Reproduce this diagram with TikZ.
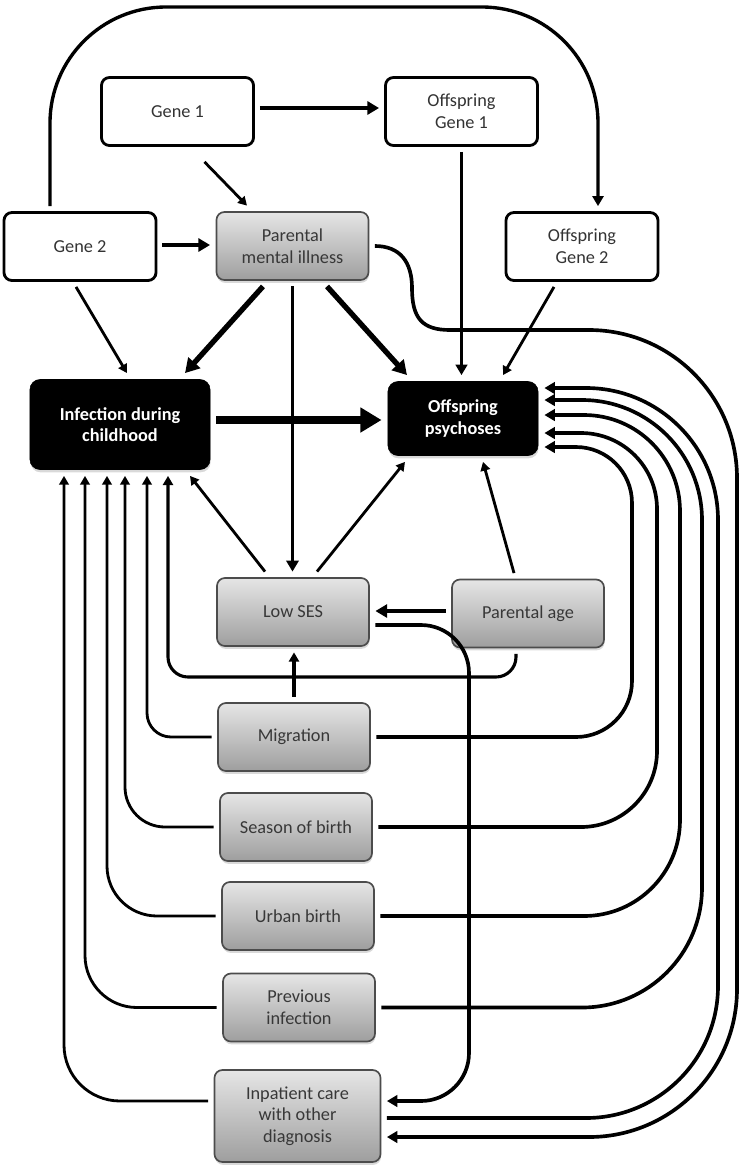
\documentclass[tikz,border=0pt]{standalone}
\usepackage{fontspec}
\setmainfont{Carlito}
\usetikzlibrary{arrows.meta,shadows,calc}
\tikzset{
  box/.style={
    shape = rectangle,
    rounded corners = 0.2cm,
    minimum width = 3.8cm,
    minimum height = 1.7cm,
    align = center,
    outer sep = 0.16cm,
    font = \fontsize{13}{15.4}\selectfont
  },
  gene/.style={
    box,
    draw = black,
    line width = 2pt,
    fill = white,
    text = black!80
  },
  factor/.style={
    box,
    draw = black!70,
    line width = 1.2pt,
    top color = black!10,
    bottom color = black!38,
    text = black!78,
    drop shadow = {shadow xshift=0.4pt, shadow yshift=-2pt, opacity=0.3}
  },
  outcome/.style={
    box,
    rounded corners = 0.25cm,
    draw = black,
    fill = black,
    text = white,
    font = \fontsize{13}{15.4}\selectfont\bfseries,
    drop shadow = {shadow xshift=0.4pt, shadow yshift=-2pt, opacity=0.3}
  },
}
\tikzset{
  conn/.style={
    line width = 2pt,
    -{Triangle[length=2pt 2.1, width=2pt 2.4]}
  },
}
\begin{document}
\begin{tikzpicture}[x=0.025cm, y=-0.025cm]
\useasboundingbox (0,0) rectangle (742,1172);
% genes
\node[gene] (g1) at (177.5,111.5) {Gene 1};
\node[gene] (og1) at (461.5,111.5) {Offspring\\Gene 1};
\node[gene] (g2) at (80,246.5) {Gene 2};
\node[gene] (og2) at (582,246.5) {Offspring\\Gene 2};
% outcomes
\node[outcome, minimum width=4.5cm, minimum height=2.25cm] (inf) at (120,424.5) {Infection during\\childhood};
\node[outcome, minimum width=3.75cm, minimum height=1.85cm] (psy) at (463,418.5) {Offspring\\psychoses};
% risk factors
\node[factor] (pmi) at (292.5,246) {Parental\\mental illness};
\node[factor] (lses) at (293,612) {Low SES};
\node[factor] (page) at (528,613.5) {Parental age};
\node[factor] (mig) at (294,737) {Migration};
\node[factor] (sob) at (296,827) {Season of birth};
\node[factor] (ub) at (298,916) {Urban birth};
\node[factor] (pinf) at (299,1007.5) {Previous\\infection};
\node[factor, minimum width=4.15cm, minimum height=2.3cm] (ipc) at (297.5,1116) {Inpatient care\\with other\\diagnosis};

% top part
\draw[conn, line width=2.4pt, rounded corners=2.9cm] (g2.north -| 50,0) |- (324,7) -| (og2.north -| 598,0);
\draw[conn, line width=3pt] (g1.east |- 0,108) -- (og1.west |- 0,108);
\draw[conn] ($(g1.south)+(27,10)$) -- (pmi.north -| 247,0);
\draw[conn, line width=3pt] (g2.east |- 0,245) -- (pmi.west |- 0,245);
\draw[conn, line width=2.6pt] (og1.south) -- (psy.north -| og1.south);
\draw[conn] (og2.south -| 554,0) -- (psy.north -| 503,0);
\draw[conn] (g2.south -| 76,0) -- (inf.north -| 127,0);
\draw[conn, line width=3.8pt] (pmi.south -| 263,0) -- (inf.north -| 185,0);
\draw[conn, line width=3.8pt] (pmi.south -| 327,0) -- (psy.north -| 407,0);
\draw[conn, line width=2.8pt] (pmi.south) -- (lses.north -| pmi.south);
\draw[conn, line width=6.2pt] (inf.east |- 0,420) -- (psy.west |- 0,420);

% middle part
\draw[conn] (lses.north -| 265,0) -- (inf.south -| 190,0);
\draw[conn] (lses.north -| 317,0) -- (psy.south -| 405,0);
\draw[conn] (page.north -| 514,0) -- (psy.south -| 483,0);
\draw[conn, line width=3pt] (page.west |- 0,611) -- (lses.east |- 0,611);
\draw[conn, line width=2.2pt, rounded corners=0.5cm] (page.south -| 516,0) |- (168,677) -- (inf.south -| 168,0);
\draw[conn, line width=2.2pt] (mig.north) -- (lses.south -| mig.north);

% left bundle
\foreach \s/\x/\r in {mig/147/0.6, sob/125/1, ub/107/1.25, pinf/85/1.3}
  \draw[conn, rounded corners=\r cm] (\s.west) -| (inf.south -| \x,0);
\draw[conn, rounded corners=1.4cm] (ipc.west |- 0,1101) -| (inf.south -| 64,0);

% right bundle
\foreach \s/\x/\y/\r in {mig/632/447/1.4, sob/657/433/1.9, ub/680/415/2.4, pinf/702/400/3}
  \draw[conn, line width=2.6pt, rounded corners=\r cm] (\s.east) -| (\x,\y) -- (psy.east |- 0,\y);
\draw[conn, line width=2.6pt, rounded corners=3.3cm] (ipc.east |- 0,1118) -| (718,388) -- (psy.east |- 0,388);
\draw[conn, line width=2.6pt, rounded corners=1.2cm] (lses.east |- 0,625) -| (469,1101) -- (ipc.east |- 0,1101);
\draw[conn, line width=2.6pt] (pmi.east) .. controls (400,246) and (412,262) .. (412,288)
  .. controls (412,318) and (422,330) .. (450,330)
  [rounded corners=3.7cm] -- (737,330) -- (737,1137) -- (ipc.east |- 0,1137);
\end{tikzpicture}
\end{document}
